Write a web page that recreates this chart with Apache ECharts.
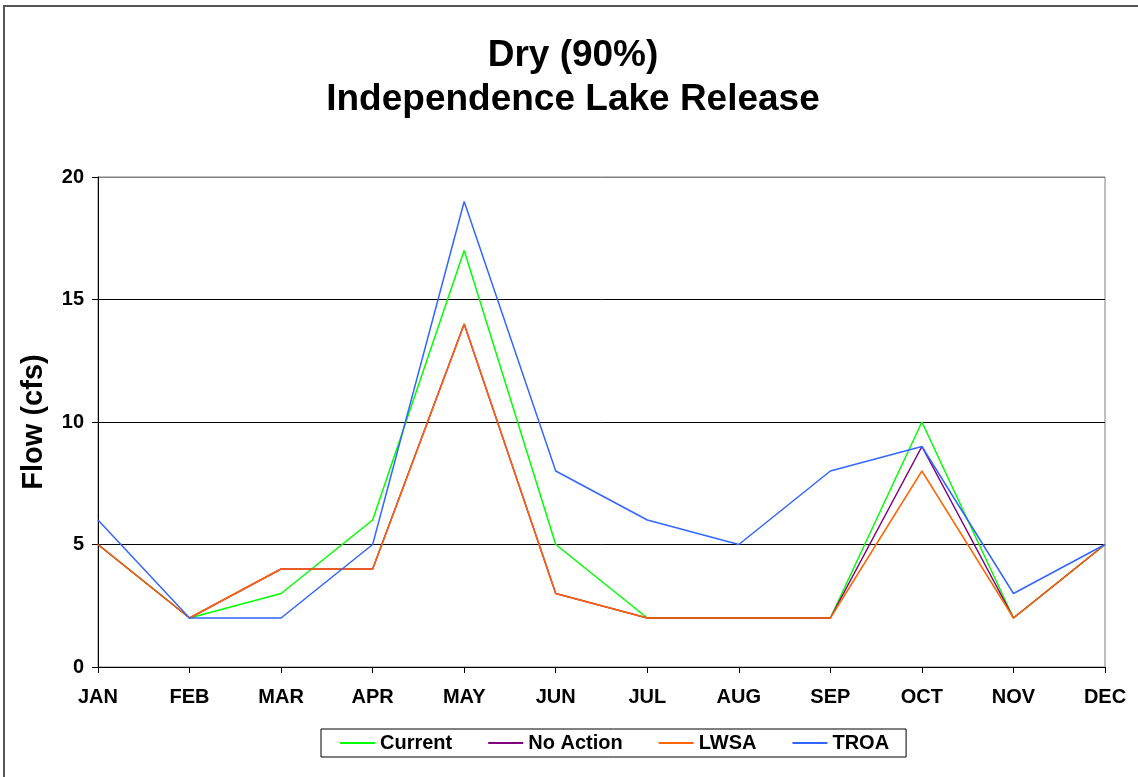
<!DOCTYPE html>
<html>
<head>
<meta charset="utf-8">
<script src="https://cdn.jsdelivr.net/npm/echarts@6/dist/echarts.min.js"></script>
<style>
  html, body { margin: 0; padding: 0; background: #fff; }
  #chart { width: 1138px; height: 777px; }
</style>
</head>
<body>
<div id="chart"></div>
<script>
var months = ['JAN', 'FEB', 'MAR', 'APR', 'MAY', 'JUN', 'JUL', 'AUG', 'SEP', 'OCT', 'NOV', 'DEC'];
var current = [5, 2, 3, 6, 17, 5, 2, 2, 2, 10, 2, 5];
var noAction = [5, 2, 4, 4, 14, 3, 2, 2, 2, 9, 2, 5];
var lwsa = [5, 2, 4, 4, 14, 3, 2, 2, 2, 8, 2, 5];
var troa = [6, 2, 2, 5, 19, 8, 6, 5, 8, 9, 3, 5];

var font = "'Liberation Sans', Arial, sans-serif";

var myChart = echarts.init(document.getElementById('chart'));

function line (name, data, color) {
  return {
    name: name,
    type: 'line',
    data: data,
    symbol: 'none',
    lineStyle: { color: color, width: 1.5 },
    itemStyle: { color: color },
    animation: false
  };
}

function titleLine (text, y) {
  return {
    type: 'text',
    x: 573, y: y,
    style: {
      text: text,
      font: 'bold 37px ' + font,
      fill: '#000',
      align: 'center',
      verticalAlign: 'middle'
    }
  };
}

var option = {
  backgroundColor: '#fff',
  textStyle: { fontFamily: font },
  graphic: [
    {
      type: 'rect',
      shape: { x: 4, y: 6, width: 1300, height: 900 },
      style: { fill: 'none', stroke: '#555', lineWidth: 2 },
      silent: true
    },
    titleLine('Dry (90%)', 56),
    titleLine('Independence Lake Release', 100)
  ],
  legend: {
    left: 321,
    top: 729,
    padding: [4, 17, 4, 19],
    itemGap: 36,
    itemWidth: 35,
    itemHeight: 2,
    icon: 'rect',
    borderColor: '#000',
    borderWidth: 1,
    textStyle: { fontFamily: font, fontWeight: 'bold', fontSize: 20, color: '#000' },
    data: ['Current', 'No Action', 'LWSA', 'TROA']
  },
  grid: {
    left: 98,
    right: 33,
    top: 177,
    bottom: 110,
    show: true,
    borderColor: '#808080',
    borderWidth: 1
  },
  xAxis: {
    type: 'category',
    data: months,
    boundaryGap: false,
    axisLine: { lineStyle: { color: '#000', width: 1 } },
    axisTick: { show: true, length: 6, inside: false, lineStyle: { color: '#000' } },
    axisLabel: { fontFamily: font, fontWeight: 'bold', fontSize: 20, color: '#000', margin: 20 },
    splitLine: { show: false }
  },
  yAxis: {
    type: 'value',
    min: 0,
    max: 20,
    interval: 5,
    name: 'Flow (cfs)',
    nameLocation: 'middle',
    nameGap: 50,
    nameTextStyle: { fontFamily: font, fontWeight: 'bold', fontSize: 29, color: '#000' },
    axisLine: { show: true, lineStyle: { color: '#000', width: 1 } },
    axisTick: { show: true, length: 6, lineStyle: { color: '#000' } },
    axisLabel: { fontFamily: font, fontWeight: 'bold', fontSize: 20, color: '#000', margin: 14 },
    splitLine: { show: true, lineStyle: { color: ['#000', '#000', '#000', '#000', '#808080'], width: 1 } }
  },
  series: [
    line('Current', current, '#00ff00'),
    line('No Action', noAction, '#800080'),
    line('LWSA', lwsa, '#ff6600'),
    line('TROA', troa, '#3366ff')
  ]
};

myChart.setOption(option);
window.addEventListener('resize', myChart.resize);
</script>
</body>
</html>
